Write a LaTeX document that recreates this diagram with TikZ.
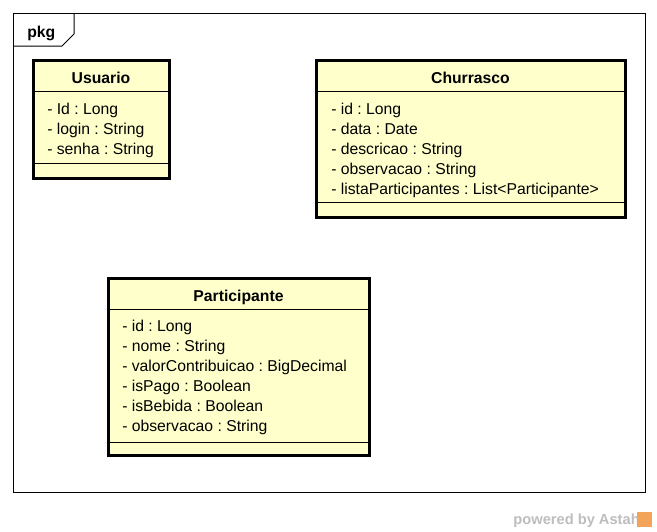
\documentclass[tikz,border=0pt]{standalone}
\usepackage{fontspec}
\setmainfont{Liberation Sans}
\usepackage{tikz}
\usetikzlibrary{positioning}
\definecolor{classfill}{HTML}{FFFFCC}
\definecolor{wmgray}{HTML}{BDBDBD}
\definecolor{astahorange}{HTML}{F2A45A}
\frenchspacing

\begin{document}
\begin{tikzpicture}[x=0.75pt,y=-0.75pt,
    font=\fontsize{11.8pt}{15pt}\selectfont,
    classhead/.style={draw=black,line width=0.75pt,fill=classfill,outer sep=0pt,
                      inner sep=0pt,minimum height=23.25pt,text height=11.4pt,text depth=0pt,
                      font=\fontsize{11.8pt}{15pt}\selectfont\bfseries},
    classbody/.style={draw=black,line width=0.75pt,fill=classfill,outer sep=0pt,inner sep=0pt},
    attrlist/.style={inner sep=0pt,align=left},
    classborder/.style={draw=black,line width=2.25pt}]
  \useasboundingbox (0,0) rectangle (657,532);

  % package frame
  \draw[line width=0.75pt] (13,13) rectangle (645,492);
  \draw[line width=0.75pt] (13,46) -- (62,46) -- (74,34) -- (74,13);
  \node[anchor=base west,inner sep=0pt,font=\fontsize{11.8pt}{15pt}\selectfont\bfseries]
    (pkgLabel) at (27,37) {pkg};

  % Usuario
  \node[classhead,minimum width=102pt,anchor=north west] (usuario) at (33,60) {Usuario};
  \node[classbody,minimum width=102pt,minimum height=54pt,below=0pt of usuario] (usuarioAttrs) {};
  \node[classbody,minimum width=102pt,minimum height=11.25pt,below=0pt of usuarioAttrs] (usuarioOps) {};
  \node[attrlist,below right=9pt and 10.5pt of usuarioAttrs.north west] (usuarioList)
    {- Id : Long\\- login : String\\- senha : String};
  \draw[classborder] (usuario.north west) rectangle (usuarioOps.south east);

  % Churrasco
  \node[classhead,minimum width=231.75pt,anchor=north west] (churrasco) at (316,60) {Churrasco};
  \node[classbody,minimum width=231.75pt,minimum height=83.25pt,below=0pt of churrasco] (churrascoAttrs) {};
  \node[classbody,minimum width=231.75pt,minimum height=11.25pt,below=0pt of churrascoAttrs] (churrascoOps) {};
  \node[attrlist,below right=9pt and 11.25pt of churrascoAttrs.north west] (churrascoList)
    {- id : Long\\- data : Date\\- descricao : String\\- observacao : String\\
     - listaParticipantes : List<Participante>};
  \draw[classborder] (churrasco.north west) rectangle (churrascoOps.south east);

  % Participante
  \node[classhead,minimum width=195.75pt,anchor=north west] (participante) at (108,278) {Participante};
  \node[classbody,minimum width=195.75pt,minimum height=99.75pt,below=0pt of participante] (participanteAttrs) {};
  \node[classbody,minimum width=195.75pt,minimum height=9.75pt,below=0pt of participanteAttrs] (participanteOps) {};
  \node[attrlist,below right=8.25pt and 10.5pt of participanteAttrs.north west] (participanteList)
    {- id : Long\\- nome : String\\- valorContribuicao : BigDecimal\\- isPago : Boolean\\
     - isBebida : Boolean\\- observacao : String};
  \draw[classborder] (participante.north west) rectangle (participanteOps.south east);

  % watermark
  \node[anchor=base east,inner sep=0pt,text=wmgray,font=\fontsize{11pt}{12pt}\selectfont\bfseries]
    (poweredBy) at (640,524) {powered by Astah};
  \node[fill=astahorange,inner sep=0pt,minimum size=11.25pt] (astahLogo) at (644,519) {};
\end{tikzpicture}
\end{document}
